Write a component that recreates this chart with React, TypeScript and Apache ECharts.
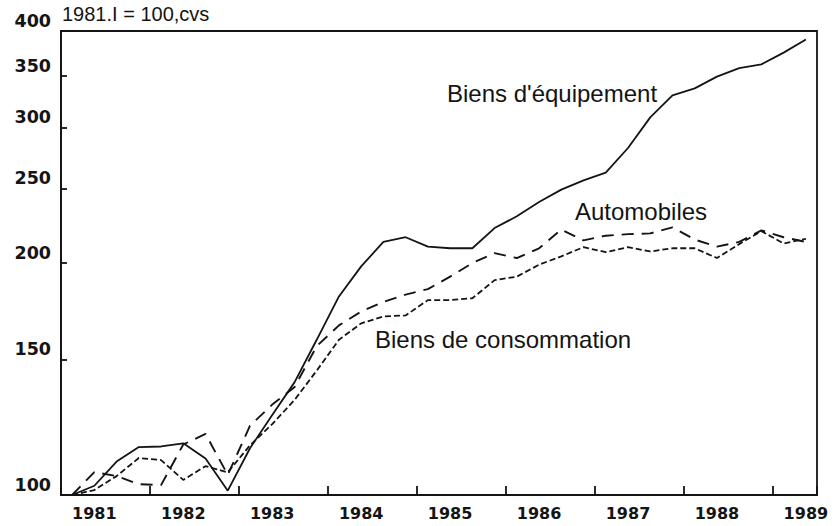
import { useEffect, useRef } from "react";
import * as echarts from "echarts";

const quarters = [
  "1981.I", "1981.II", "1981.III", "1981.IV",
  "1982.I", "1982.II", "1982.III", "1982.IV",
  "1983.I", "1983.II", "1983.III", "1983.IV",
  "1984.I", "1984.II", "1984.III", "1984.IV",
  "1985.I", "1985.II", "1985.III", "1985.IV",
  "1986.I", "1986.II", "1986.III", "1986.IV",
  "1987.I", "1987.II", "1987.III", "1987.IV",
  "1988.I", "1988.II", "1988.III", "1988.IV",
  "1989.I", "1989.II",
];

const biensEquipement = [
  100, 102.8, 110.5, 115.4, 115.6, 116.7, 111.5, 101.3,
  115, 127, 140, 159, 181, 198, 213, 216,
  210, 209, 209, 222, 230, 240, 249, 256,
  262, 282, 309, 330, 337, 349, 358, 362,
  375, 390,
];

const automobiles = [
  100, 107.1, 105.8, 103.3, 103.0, 116.3, 120, 106.2,
  123, 131, 138, 156, 166, 173, 178, 182,
  185, 192, 200, 206, 203, 209, 221, 214,
  217, 218, 218.5, 222.5, 214.5, 210, 213, 220.5,
  216, 213,
];

const biensConsommation = [
  100, 101.5, 105.8, 111.7, 111.0, 104.6, 109.0, 107.0,
  116, 123.6, 132.8, 145, 159, 167, 170.5, 171,
  179, 179, 180, 190, 192, 199, 204, 209.7,
  206.6, 209.7, 207, 209, 209, 203, 211.6, 220,
  212, 215,
];

const yTicks = [100, 150, 200, 250, 300, 350, 400];

const titleText = "1981.I = 100,cvs";
const labelEquipement = "Biens d'équipement";
const labelAutomobiles = "Automobiles";
const labelConsommation = "Biens de consommation";

export default function App() {
  const ref = useRef<HTMLDivElement>(null);

  useEffect(() => {
    if (!ref.current) return;
    const chart = echarts.init(ref.current, null, { renderer: "svg" });
    const ink = "#141414";
    const plotFont = "DejaVu Sans";
    const textFont = "Liberation Sans";
    const toLog = (arr: number[]) => arr.map((v) => Math.log(v));

    chart.setOption({
      animation: false,
      backgroundColor: "#ffffff",
      grid: {
        left: 61,
        right: 22,
        top: 31,
        bottom: 31,
        show: true,
        borderColor: ink,
        borderWidth: 1.8,
        outerBoundsMode: "none",
      },
      xAxis: {
        type: "category",
        data: quarters,
        boundaryGap: true,
        axisLine: { show: true, lineStyle: { color: ink, width: 1.8 } },
        axisTick: {
          show: true,
          inside: true,
          length: 9,
          interval: (index: number) => index % 4 === 0,
          lineStyle: { color: ink, width: 1.8 },
        },
        axisLabel: {
          show: true,
          interval: (index: number) => index % 4 === 1,
          formatter: (value: string) => value.slice(0, 4),
          margin: 10,
          color: ink,
          fontFamily: plotFont,
          fontWeight: "bold",
          fontSize: 16,
        },
        splitLine: { show: false },
      },
      yAxis: {
        type: "value",
        min: Math.log(100),
        max: Math.log(400),
        axisLine: { show: true, lineStyle: { color: ink, width: 1.8 } },
        axisTick: {
          show: true,
          inside: true,
          length: 6,
          customValues: yTicks.map((v) => Math.log(v)),
          lineStyle: { color: ink, width: 1.8 },
        },
        axisLabel: {
          show: true,
          customValues: yTicks.map((v) => Math.log(v)),
          formatter: (v: number) => String(Math.round(Math.exp(v))),
          margin: 10,
          verticalAlign: "bottom",
          lineHeight: 20,
          color: ink,
          fontFamily: plotFont,
          fontWeight: "bold",
          fontSize: 17.5,
        },
        splitLine: { show: false },
      },
      series: [
        {
          name: labelEquipement,
          type: "line",
          data: toLog(biensEquipement),
          showSymbol: false,
          symbol: "none",
          lineStyle: { color: ink, width: 1.8, type: "solid" },
        },
        {
          name: labelAutomobiles,
          type: "line",
          data: toLog(automobiles),
          showSymbol: false,
          symbol: "none",
          lineStyle: { color: ink, width: 1.9, type: [12, 8] },
        },
        {
          name: labelConsommation,
          type: "line",
          data: toLog(biensConsommation),
          showSymbol: false,
          symbol: "none",
          lineStyle: { color: ink, width: 1.8, type: [6, 3] },
        },
      ],
      graphic: [
        {
          type: "text",
          left: 62,
          top: 4,
          style: {
            text: titleText,
            fill: ink,
            font: `20px "${textFont}"`,
          },
        },
        {
          type: "text",
          left: 447,
          top: 81,
          style: {
            text: labelEquipement,
            fill: ink,
            font: `24px "${textFont}"`,
          },
        },
        {
          type: "text",
          left: 575,
          top: 199,
          style: {
            text: labelAutomobiles,
            fill: ink,
            font: `24px "${textFont}"`,
          },
        },
        {
          type: "text",
          left: 375,
          top: 327,
          style: {
            text: labelConsommation,
            fill: ink,
            font: `24px "${textFont}"`,
          },
        },
      ],
    });

    return () => {
      chart.dispose();
    };
  }, []);

  return (
    <div
      ref={ref}
      style={{
        position: "fixed",
        left: 0,
        top: 0,
        width: 839,
        height: 526,
        background: "#ffffff",
      }}
    />
  );
}
